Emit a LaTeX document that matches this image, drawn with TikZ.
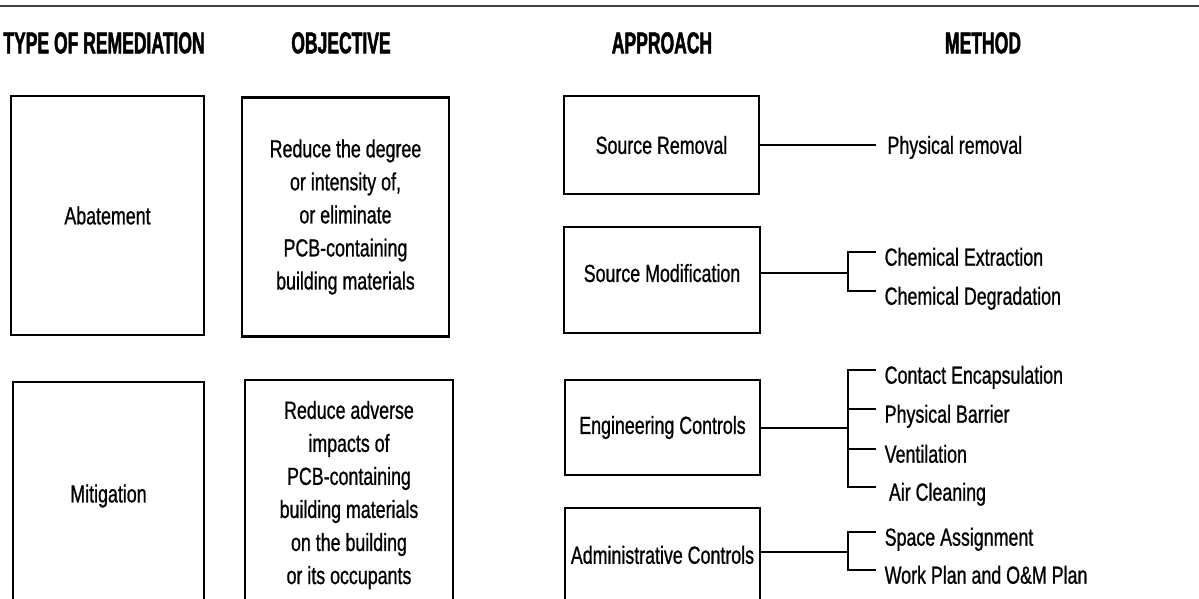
\documentclass[tikz,border=0pt]{standalone}
\usepackage{fontspec}
\setmainfont{Liberation Sans}[FakeStretch=0.72,FakeBold=0.8]
\newfontfamily\hdrfont{Liberation Sans}[FakeStretch=0.58,FakeBold=1.5]
\begin{document}
\begin{tikzpicture}[x=0.025cm,y=-0.025cm,
    box/.style={draw,line width=1.7pt,align=center,inner sep=0pt,font=\fontsize{17.6}{23.5}\selectfont},
    hdr/.style={font=\hdrfont\bfseries\fontsize{21.5}{25}\selectfont,inner sep=0pt,text height=15.4pt,text depth=0pt},
    meth/.style={anchor=west,inner xsep=6pt,inner ysep=0pt,text height=19.5pt,text depth=0pt,font=\fontsize{17.6}{23.5}\selectfont},
    link/.style={line width=1.4pt}]
  \clip (0,0) rectangle (1199,599);
  \draw[line width=1.1pt,black!75] (0,6) -- (1199,6);
  \node[hdr] (htype) at (104,42.5) {TYPE OF REMEDIATION};
  \node[hdr] (hobj) at (341,42.5) {OBJECTIVE};
  \node[hdr] (happr) at (662,42.5) {APPROACH};
  \node[hdr] (hmeth) at (983,42.5) {METHOD};

  \node[box,minimum width=4.83cm,minimum height=5.98cm] (abate) at (107.5,215.5) {Abatement};
  \node[box,minimum width=5.18cm,minimum height=5.98cm] (obj1) at (345.5,217) {Reduce the degree\\or intensity of,\\or eliminate\\PCB-containing\\building materials};
  \node[box,minimum width=4.78cm,minimum height=5.7cm] (mitig) at (108.5,496) {Mitigation};
  \node[box,minimum width=5.2cm,minimum height=5.75cm] (obj2) at (349,495) {Reduce adverse\\impacts of\\PCB-containing\\building materials\\on the building\\or its occupants};

  \node[box,minimum width=4.88cm,minimum height=2.45cm] (srcrem) at (661.5,145) {Source Removal};
  \node[box,minimum width=4.9cm,minimum height=2.65cm,text depth=10pt] (srcmod) at (662,280) {Source Modification};
  \node[box,minimum width=4.88cm,minimum height=2.38cm] (eng) at (662.5,427.5) {Engineering Controls};
  \node[box,minimum width=4.88cm,minimum height=2.55cm,text depth=6pt] (admin) at (662.5,559) {Administrative Controls};

  \coordinate (smb) at (848,273);
  \coordinate (egb) at (848,428);
  \coordinate (adb) at (848,552);

  \node[meth,text height=12.5pt,inner xsep=8pt] (physrem) at (876,145) {Physical removal};
  \node[meth] (chemext) at (876,252) {Chemical Extraction};
  \node[meth] (chemdeg) at (876,291) {Chemical Degradation};
  \node[meth] (contenc) at (876,370) {Contact Encapsulation};
  \node[meth] (physbar) at (876,409) {Physical Barrier};
  \node[meth] (vent) at (876,449) {Ventilation};
  \node[meth,inner xsep=9pt] (aircln) at (876,487) {Air Cleaning};
  \node[meth] (spass) at (876,532) {Space Assignment};
  \node[meth] (wrkpln) at (876,570) {Work Plan and O\&M Plan};

  \draw[link] (srcrem.east) -- (physrem.west);
  \draw[link] (srcmod.east |- smb) -- (smb);
  \draw[link] (chemext.west) -- (chemext.west -| smb) -- (chemdeg.west -| smb) -- (chemdeg.west);
  \draw[link] (eng.east |- egb) -- (egb);
  \draw[link] (contenc.west) -- (contenc.west -| egb) -- (aircln.west -| egb) -- (aircln.west);
  \draw[link] (physbar.west -| egb) -- (physbar.west);
  \draw[link] (vent.west -| egb) -- (vent.west);
  \draw[link] (admin.east |- adb) -- (adb);
  \draw[link] (spass.west) -- (spass.west -| adb) -- (wrkpln.west -| adb) -- (wrkpln.west);
\end{tikzpicture}
\end{document}
